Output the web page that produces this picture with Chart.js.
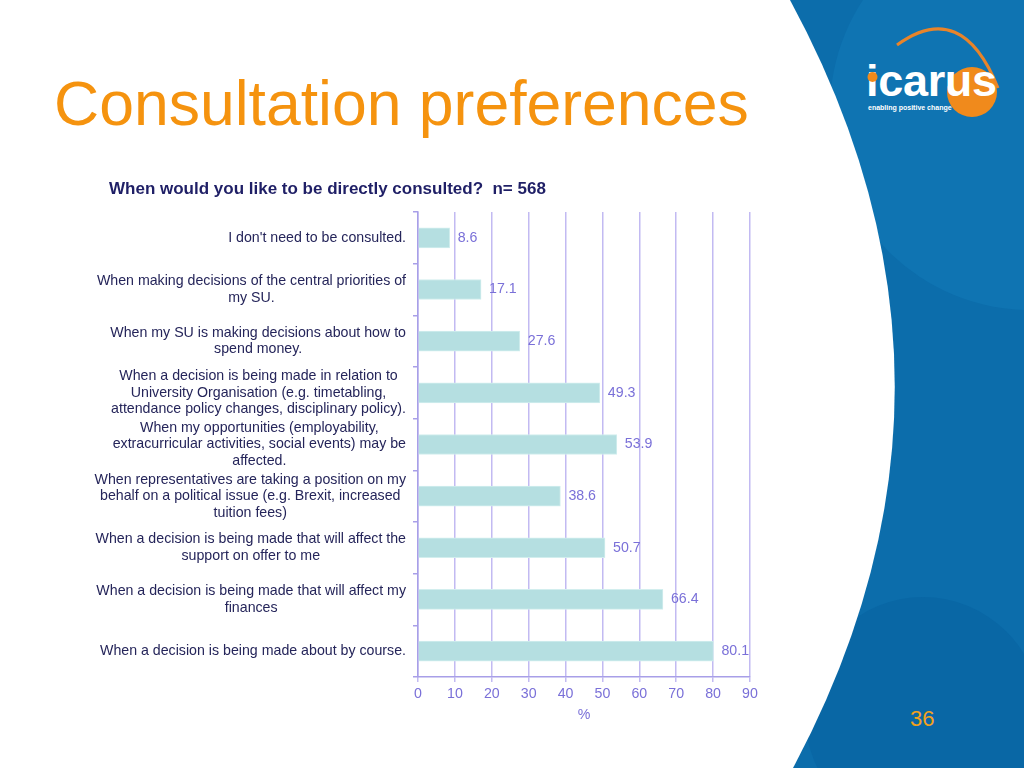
<!DOCTYPE html>
<html>
<head>
<meta charset="utf-8">
<script src="https://cdn.jsdelivr.net/npm/chart.js@4"></script>
<style>
  html, body { margin: 0; padding: 0; }
  body { width: 1024px; height: 768px; position: relative; overflow: hidden; background: #fff;
         font-family: "Liberation Sans", Arial, sans-serif; }
  #bg { position: absolute; left: 0; top: 0; }
  #slideTitle { position: absolute; left: 54px; top: 67px; font-size: 62.5px; color: #f5930f; white-space: nowrap; }
  #logo { position: absolute; left: 866px; top: 55px; font-size: 45px; font-weight: bold; color: #fff; letter-spacing: -0.3px; }
  #tagline { position: absolute; left: 868px; top: 104px; font-size: 7px; font-weight: bold; color: #fff; white-space: nowrap; }
  #pageNo { position: absolute; left: 910px; top: 706px; font-size: 22px; color: #f3a11c; }
  #wrap { position: absolute; left: 0; top: 0; width: 1024px; height: 768px; }
</style>
</head>
<body>
<svg id="bg" width="1024" height="768">
  <rect x="0" y="0" width="1024" height="768" fill="#0c6dab"/>
  <circle cx="1030" cy="110" r="200" fill="#0f74b2"/>
  <circle cx="923" cy="715" r="118" fill="#0967a5"/>
  <path d="M0,0 L790,0 Q998,384 793,768 L0,768 Z" fill="#ffffff"/>
  <path d="M897,45 Q962,-2 998,88" fill="none" stroke="#e8842a" stroke-width="3"/>
  <circle cx="972" cy="92" r="25" fill="#f08a1c"/>
</svg>
<div id="slideTitle">Consultation preferences</div>
<div id="logo">icarus</div>
<svg style="position:absolute;left:867px;top:71px" width="12" height="12"><circle cx="5.5" cy="6" r="5" fill="#f08a1c"/></svg>
<div id="tagline">enabling positive change</div>
<div id="pageNo">36</div>
<div id="wrap"><canvas id="chart" width="1024" height="768"></canvas></div>
<script>
const categories = [
  "I don't need to be consulted.",
  ["When making decisions of the central priorities of", "my SU."],
  ["When my SU is making decisions about how to", "spend money."],
  ["When a decision is being made in relation to", "University Organisation (e.g. timetabling,", "attendance policy changes, disciplinary policy)."],
  ["When my opportunities (employability,", "extracurricular activities, social events) may be", "affected."],
  ["When representatives are taking a position on my", "behalf on a political issue (e.g. Brexit, increased", "tuition fees)"],
  ["When a decision is being made that will affect the", "support on offer to me"],
  ["When a decision is being made that will affect my", "finances"],
  "When a decision is being made about by course."
];
const values = [8.6, 17.1, 27.6, 49.3, 53.9, 38.6, 50.7, 66.4, 80.1];
const chartTitle = 'When would you like to be directly consulted?  n= 568';
const axisTitle = '%';

const FONT = '"Liberation Sans", Arial, sans-serif';
const SIZE = 14.2;
const purple = '#7a70d8';

// value labels right of each bar
const valueLabels = {
  id: 'valueLabels',
  afterDatasetsDraw(chart) {
    const ctx = chart.ctx;
    const meta = chart.getDatasetMeta(0);
    ctx.save();
    ctx.font = SIZE + 'px ' + FONT;
    ctx.fillStyle = purple;
    ctx.textAlign = 'left';
    ctx.textBaseline = 'middle';
    meta.data.forEach((bar, i) => {
      ctx.fillText(values[i].toFixed(1), bar.x + 8, bar.y);
    });
    ctx.restore();
  }
};

// category labels: each block right aligned, lines centred inside it
const catLabels = {
  id: 'catLabels',
  afterDraw(chart) {
    const ctx = chart.ctx;
    const y = chart.scales.y;
    const lh = 16.5;
    ctx.save();
    ctx.font = SIZE + 'px ' + FONT;
    ctx.fillStyle = '#25255a';
    ctx.textAlign = 'center';
    ctx.textBaseline = 'middle';
    categories.forEach((lab, i) => {
      const lines = Array.isArray(lab) ? lab : [lab];
      const w = Math.max(...lines.map(l => ctx.measureText(l).width));
      const cx = y.right - 12 - w / 2;
      const cy = y.getPixelForValue(i);
      lines.forEach((l, k) => {
        ctx.fillText(l, cx, cy - (lines.length - 1) * lh / 2 + k * lh);
      });
    });
    ctx.restore();
  }
};

new Chart(document.getElementById('chart'), {
  type: 'bar',
  data: {
    labels: categories,
    datasets: [{
      data: values,
      backgroundColor: '#b5dfe1',
      borderColor: '#d2eeee',
      borderWidth: 1,
      barThickness: 20
    }]
  },
  options: {
    indexAxis: 'y',
    responsive: false,
    animation: false,
    layout: { padding: { left: 109, right: 274, top: 179, bottom: 44 } },
    plugins: {
      legend: { display: false },
      tooltip: { enabled: false },
      title: {
        display: true,
        text: chartTitle,
        align: 'start',
        color: '#1f1f66',
        font: { family: FONT, size: 17, weight: 'bold' },
        padding: { top: 0, bottom: 12.6 }
      }
    },
    scales: {
      x: {
        min: 0,
        max: 90,
        ticks: { stepSize: 10, color: purple, font: { family: FONT, size: SIZE }, padding: 4 },
        grid: { color: '#c2baf2', lineWidth: 1.5, tickLength: 5 },
        border: { display: true, color: '#a89fe8', width: 1.5 },
        title: { display: true, text: axisTitle, color: purple, font: { family: FONT, size: SIZE }, padding: { top: 0, bottom: 0 } }
      },
      y: {
        offset: true,
        ticks: { color: 'transparent', autoSkip: false, font: { family: FONT, size: SIZE } },
        grid: { drawOnChartArea: false, drawTicks: true, tickLength: 5, color: '#a89fe8', lineWidth: 1.5, offset: true },
        border: { display: true, color: '#a89fe8', width: 1.5 },
        afterFit(scale) { scale.width = 309; }
      }
    }
  },
  plugins: [valueLabels, catLabels]
});
</script>
</body>
</html>
